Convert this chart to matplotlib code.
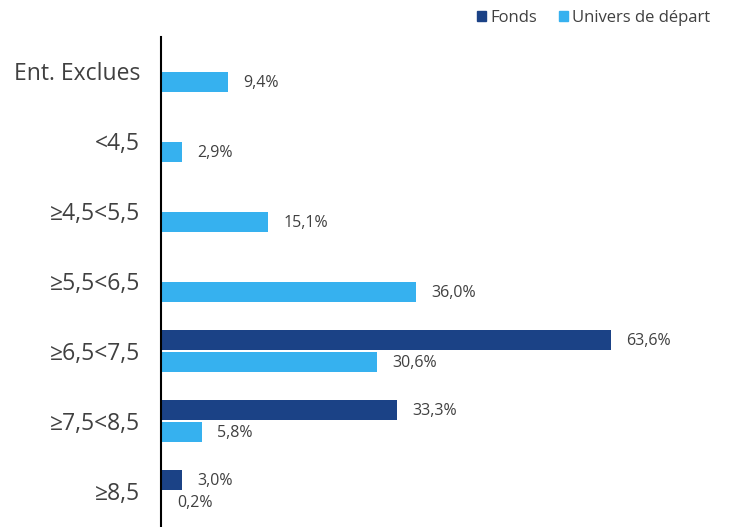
import numpy as np
import matplotlib.pyplot as plt
from matplotlib.patches import Patch

categories = ['Ent. Exclues', '<4,5', '≥4,5<5,5', '≥5,5<6,5', '≥6,5<7,5', '≥7,5<8,5', '≥8,5']
fonds = [None, None, None, None, 63.6, 33.3, 3.0]
univers = [9.4, 2.9, 15.1, 36.0, 30.6, 5.8, 0.2]

DARK = '#1B4286'
LIGHT = '#36B1EF'
TXT = '#404040'

plt.rcParams['font.family'] = ['Open Sans', 'DejaVu Sans']

fig = plt.figure(figsize=(7.29, 5.27), dpi=100)
ax = fig.add_axes([161 / 729, 0, 80 * 7.075 / 729, 490 / 527])

y = np.arange(len(categories))
h = 0.28
off = 0.157

for i, v in enumerate(fonds):
    if v is None:
        continue
    ax.barh(y[i] - off, v, height=h, color=DARK)
    ax.annotate(f'{v:.1f}%'.replace('.', ','), (v, y[i] - off), xytext=(11, -1),
                textcoords='offset points', va='center', ha='left', fontsize=11.5, color=TXT)

for i, v in enumerate(univers):
    yy = y[i] + off
    ax.barh(yy, v, height=h, color=LIGHT)
    ax.annotate(f'{v:.1f}%'.replace('.', ','), (v, yy), xytext=(11, -1),
                textcoords='offset points', va='center', ha='left', fontsize=11.5, color=TXT)

ax.set_xlim(0, 80)
ax.set_ylim(6.514, -0.486)
ax.set_yticks(y)
ax.set_yticklabels(categories, fontsize=16.5, color=TXT)
ax.tick_params(axis='y', length=0, pad=15)
ax.set_xticks([])
for s in ['top', 'right', 'bottom']:
    ax.spines[s].set_visible(False)
ax.spines['left'].set_color('black')
ax.spines['left'].set_linewidth(1.5)

handles = [Patch(color=DARK, label='Fonds'), Patch(color=LIGHT, label='Univers de départ')]
fig.legend(handles=handles, loc='upper right', bbox_to_anchor=(0.995, 1.01), ncol=2,
           frameon=False, fontsize=12, handlelength=0.55, handleheight=0.55,
           handletextpad=0.25, columnspacing=1.3, labelcolor=TXT)

fig.savefig('out.png', dpi=100)
